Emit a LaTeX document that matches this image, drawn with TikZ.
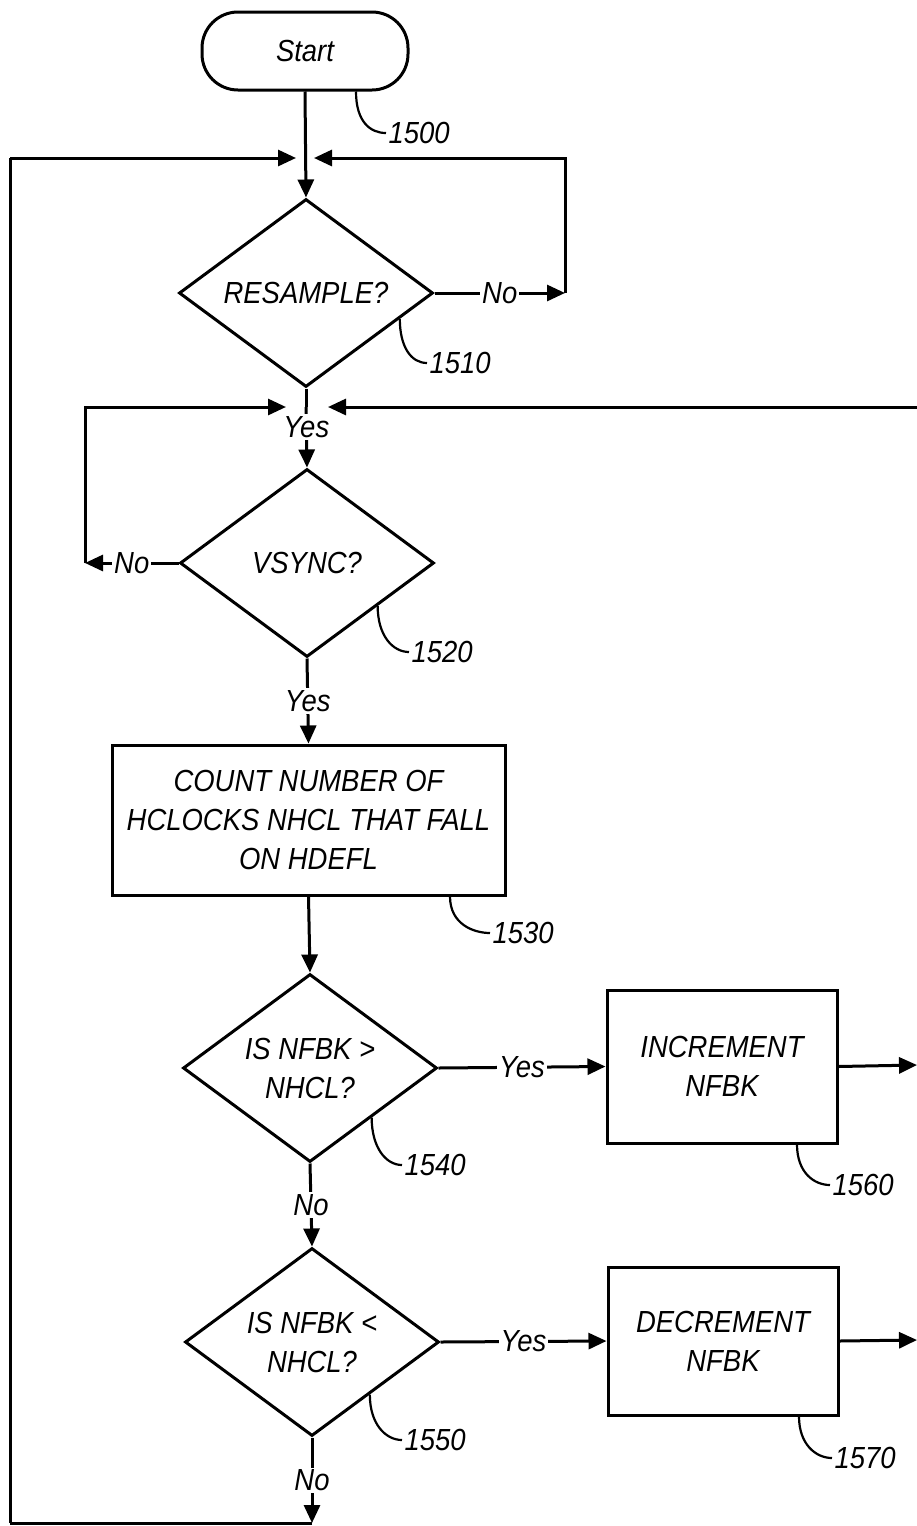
\documentclass[tikz,border=0pt]{standalone}
\usepackage{fontspec}
\newfontfamily\lbfont{Liberation Sans}[FakeStretch=0.9]
\usetikzlibrary{shapes.geometric,arrows.meta,calc}
\begin{document}
\begin{tikzpicture}[x=1pt,y=-1pt,
  line width=3pt,
  every node/.style={font=\lbfont\itshape\fontsize{30.5}{39}\selectfont},
  arr/.style={-{Triangle[length=18pt,width=16pt]}},
  dec/.style={draw,shape=diamond,aspect=1.35,minimum width=254pt,minimum height=188pt,inner sep=0pt,align=center},
  proc/.style={draw,rectangle,inner sep=0pt,align=center},
  term/.style={draw,rectangle,rounded corners=36pt,minimum width=206pt,minimum height=78pt,inner sep=0pt},
  lab/.style={fill=white,inner sep=2pt},
  ref/.style={inner sep=1pt,anchor=west},
  lead/.style={line width=2.2pt}
]
\useasboundingbox (0,0) rectangle (917,1526);
\fill[white] (0,0) rectangle (917,1526);

% nodes
\node[term] (start) at (305,51) {Start};
\node[dec] (d1) at (306,293) {RESAMPLE?};
\node[dec] (d2) at (307,563) {VSYNC?};
\node[proc,minimum width=393pt,minimum height=150pt] (b530) at (308.5,820) {COUNT NUMBER OF\\HCLOCKS NHCL THAT FALL\\ON HDEFL};
\node[dec] (d3) at (310,1068) {IS NFBK >\\NHCL?};
\node[dec] (d4) at (312,1342) {IS NFBK <\\NHCL?};
\node[proc,minimum width=230pt,minimum height=153pt] (b560) at (722,1066.5) {INCREMENT\\NFBK};
\node[proc,minimum width=230pt,minimum height=148pt] (b570) at (723,1341) {DECREMENT\\NFBK};

% reference numerals
\node[ref] (r1500) at (386,133) {1500};
\node[ref] (r1510) at (427,363) {1510};
\node[ref] (r1520) at (409,652) {1520};
\node[ref] (r1530) at (490,933) {1530};
\node[ref] (r1540) at (402,1165) {1540};
\node[ref] (r1550) at (402,1440) {1550};
\node[ref] (r1560) at (830,1185) {1560};
\node[ref] (r1570) at (832,1458) {1570};

% coordinates
\coordinate (j1L) at (296,158);
\coordinate (j1R) at (314,158);
\coordinate (nr1) at (565,293);
\coordinate (nr1t) at (565,158);
\coordinate (j2) at (306,407);
\coordinate (j2L) at (286,407);
\coordinate (j2R) at (328,407);
\coordinate (e2) at (917,407);
\coordinate (nl2) at (85,563);
\coordinate (nl2t) at (85,407);
\coordinate (bot) at (312,1523);
\coordinate (botL) at (10,1523);
\coordinate (topL) at (10,158);
\coordinate (e560) at (917,1065);
\coordinate (e570) at (917,1340);

% connectors
\draw[arr] (start.south) -- (d1.north);
\draw[arr] (topL) -- (j1L);
\draw (botL) -- (topL);
\draw (bot) -- (botL);
\draw[arr] (d1.east) -- node[lab]{No} (nr1);
\draw[arr] (nr1) -- (nr1t) -- (j1R);
\draw (d1.south) -- (j2);
\draw[arr] (j2) -- node[lab,pos=0.33]{Yes} (d2.north);
\draw[arr] (e2) -- (j2R);
\draw[arr] (d2.west) -- node[lab]{No} (nl2);
\draw[arr] (nl2) -- (nl2t) -- (j2L);
\draw[arr] (d2.south) -- node[lab]{Yes} (b530.north);
\draw[arr] (b530.south) -- (d3.north);
\draw[arr] (d3.east) -- node[lab]{Yes} (b560.west);
\draw[arr] (d3.south) -- node[lab]{No} (d4.north);
\draw[arr] (d4.east) -- node[lab]{Yes} (b570.west);
\draw[arr] (d4.south) -- node[lab]{No} (bot);
\draw[arr] (b560.east) -- (e560);
\draw[arr] (b570.east) -- (e570);

% leader lines
\draw[lead] ($(start.south)+(51,0)$) .. controls +(0,30) and +(-16,0) .. (r1500.west);
\draw[lead] ($(d1.south)!0.73!(d1.east)$) .. controls +(0,28) and +(-16,0) .. (r1510.west);
\draw[lead] ($(d2.south)!0.55!(d2.east)$) .. controls +(0,30) and +(-16,0) .. (r1520.west);
\draw[lead] ($(b530.south)+(141.5,0)$) .. controls +(0,28) and +(-16,0) .. (r1530.west);
\draw[lead] ($(d3.south)!0.48!(d3.east)$) .. controls +(0,30) and +(-16,0) .. (r1540.west);
\draw[lead] ($(d4.south)!0.45!(d4.east)$) .. controls +(0,30) and +(-16,0) .. (r1550.west);
\draw[lead] ($(b560.south)+(75,0)$) .. controls +(0,28) and +(-16,0) .. (r1560.west);
\draw[lead] ($(b570.south)+(76,0)$) .. controls +(0,28) and +(-16,0) .. (r1570.west);
\end{tikzpicture}
\end{document}
